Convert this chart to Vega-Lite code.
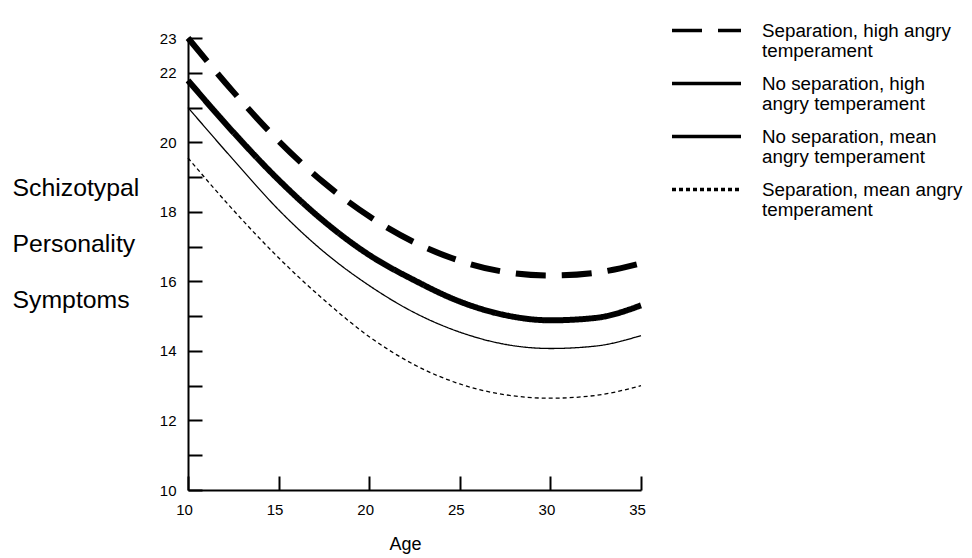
{
  "$schema": "https://vega.github.io/schema/vega-lite/v6.json",
  "width": 453,
  "height": 452,
  "autosize": {"type": "none"},
  "padding": {"left": 188, "top": 38, "right": 331, "bottom": 68},
  "background": "white",
  "config": {"view": {"stroke": null}, "font": "Liberation Sans"},
  "data": {
    "values": [
      {"series": "Separation, high angry|temperament", "age": 10, "v": 23.0},
      {"series": "Separation, high angry|temperament", "age": 12.5, "v": 21.45},
      {"series": "Separation, high angry|temperament", "age": 15, "v": 20.04},
      {"series": "Separation, high angry|temperament", "age": 17.5, "v": 18.84},
      {"series": "Separation, high angry|temperament", "age": 20, "v": 17.87},
      {"series": "Separation, high angry|temperament", "age": 22.5, "v": 17.12},
      {"series": "Separation, high angry|temperament", "age": 25, "v": 16.59},
      {"series": "Separation, high angry|temperament", "age": 27.5, "v": 16.27},
      {"series": "Separation, high angry|temperament", "age": 30, "v": 16.17},
      {"series": "Separation, high angry|temperament", "age": 32.5, "v": 16.25},
      {"series": "Separation, high angry|temperament", "age": 35, "v": 16.52},

      {"series": "No separation, high|angry temperament", "age": 10, "v": 21.78},
      {"series": "No separation, high|angry temperament", "age": 12.5, "v": 20.29},
      {"series": "No separation, high|angry temperament", "age": 15, "v": 18.92},
      {"series": "No separation, high|angry temperament", "age": 17.5, "v": 17.73},
      {"series": "No separation, high|angry temperament", "age": 20, "v": 16.76},
      {"series": "No separation, high|angry temperament", "age": 22.5, "v": 16.03},
      {"series": "No separation, high|angry temperament", "age": 25, "v": 15.42},
      {"series": "No separation, high|angry temperament", "age": 27.5, "v": 15.03},
      {"series": "No separation, high|angry temperament", "age": 30, "v": 14.88},
      {"series": "No separation, high|angry temperament", "age": 32.5, "v": 14.95},
      {"series": "No separation, high|angry temperament", "age": 35, "v": 15.31},

      {"series": "No separation, mean|angry temperament", "age": 10, "v": 21.0},
      {"series": "No separation, mean|angry temperament", "age": 12.5, "v": 19.5},
      {"series": "No separation, mean|angry temperament", "age": 15, "v": 18.06},
      {"series": "No separation, mean|angry temperament", "age": 17.5, "v": 16.85},
      {"series": "No separation, mean|angry temperament", "age": 20, "v": 15.88},
      {"series": "No separation, mean|angry temperament", "age": 22.5, "v": 15.1},
      {"series": "No separation, mean|angry temperament", "age": 25, "v": 14.54},
      {"series": "No separation, mean|angry temperament", "age": 27.5, "v": 14.19},
      {"series": "No separation, mean|angry temperament", "age": 30, "v": 14.07},
      {"series": "No separation, mean|angry temperament", "age": 32.5, "v": 14.14},
      {"series": "No separation, mean|angry temperament", "age": 35, "v": 14.44},

      {"series": "Separation, mean angry|temperament", "age": 10, "v": 19.55},
      {"series": "Separation, mean angry|temperament", "age": 12.5, "v": 18.05},
      {"series": "Separation, mean angry|temperament", "age": 15, "v": 16.68},
      {"series": "Separation, mean angry|temperament", "age": 17.5, "v": 15.47},
      {"series": "Separation, mean angry|temperament", "age": 20, "v": 14.41},
      {"series": "Separation, mean angry|temperament", "age": 22.5, "v": 13.6},
      {"series": "Separation, mean angry|temperament", "age": 25, "v": 13.05},
      {"series": "Separation, mean angry|temperament", "age": 27.5, "v": 12.74},
      {"series": "Separation, mean angry|temperament", "age": 30, "v": 12.64},
      {"series": "Separation, mean angry|temperament", "age": 32.5, "v": 12.72},
      {"series": "Separation, mean angry|temperament", "age": 35, "v": 13.0}
    ]
  },
  "mark": {"type": "line", "interpolate": "monotone", "color": "black", "strokeCap": "butt"},
  "encoding": {
    "x": {
      "field": "age",
      "type": "quantitative",
      "scale": {"domain": [10, 35], "nice": false, "zero": false},
      "axis": {
        "title": "Age",
        "values": [10, 15, 20, 25, 30, 35],
        "tickSize": -14,
        "labelPadding": 26,
        "labelOffset": -4,
        "labelFlush": false,
        "labelFontSize": 15,
        "labelColor": "black",
        "domainColor": "black",
        "domainWidth": 2,
        "tickColor": "black",
        "tickWidth": 2,
        "grid": false,
        "titleFontSize": 18,
        "titleFontWeight": "normal",
        "titleColor": "black",
        "titleAlign": "center",
        "titleBaseline": "alphabetic",
        "titleX": 217,
        "titleY": 59
      }
    },
    "y": {
      "field": "v",
      "type": "quantitative",
      "scale": {"domain": [10, 23], "nice": false, "zero": false},
      "axis": {
        "title": ["Schizotypal", "Personality", "Symptoms"],
        "values": [10, 11, 12, 13, 14, 15, 16, 17, 18, 19, 20, 21, 22, 23],
        "labelExpr": "datum.value % 2 === 0 || datum.value === 23 ? datum.label : ''",
        "labelOverlap": false,
        "labelFlush": false,
        "tickSize": -14,
        "labelPadding": 26,
        "labelFontSize": 15,
        "labelColor": "black",
        "domainColor": "black",
        "domainWidth": 2,
        "tickColor": "black",
        "tickWidth": 2,
        "grid": false,
        "titleAngle": 0,
        "titleAlign": "left",
        "titleBaseline": "alphabetic",
        "titleX": -176,
        "titleY": 157,
        "titleLineHeight": 56,
        "titleFontSize": 24.8,
        "titleFontWeight": "normal",
        "titleColor": "black"
      }
    },
    "strokeDash": {
      "field": "series",
      "type": "nominal",
      "scale": {
        "domain": [
          "Separation, high angry|temperament",
          "No separation, high|angry temperament",
          "No separation, mean|angry temperament",
          "Separation, mean angry|temperament"
        ],
        "range": [[30, 16], [1, 0], [1, 0], [4, 3]]
      },
      "legend": {
        "title": null,
        "orient": "none",
        "legendX": 505,
        "legendY": -21,
        "padding": 0,
        "symbolType": "M-3,0H3",
        "symbolSize": 529,
        "symbolStrokeColor": "black",
        "symbolFillColor": "transparent",
        "symbolStrokeWidth": 3.5,
        "labelFontSize": 18.8,
        "labelFont": "Liberation Sans",
        "labelColor": "black",
        "labelOffset": 42,
        "labelLimit": 400,
        "rowPadding": 8,
        "labelExpr": "split(datum.label, '|')"
      }
    },
    "strokeWidth": {
      "condition": {"test": "indexof(datum.series, 'high') >= 0", "value": 6},
      "value": 1.3
    }
  }
}
